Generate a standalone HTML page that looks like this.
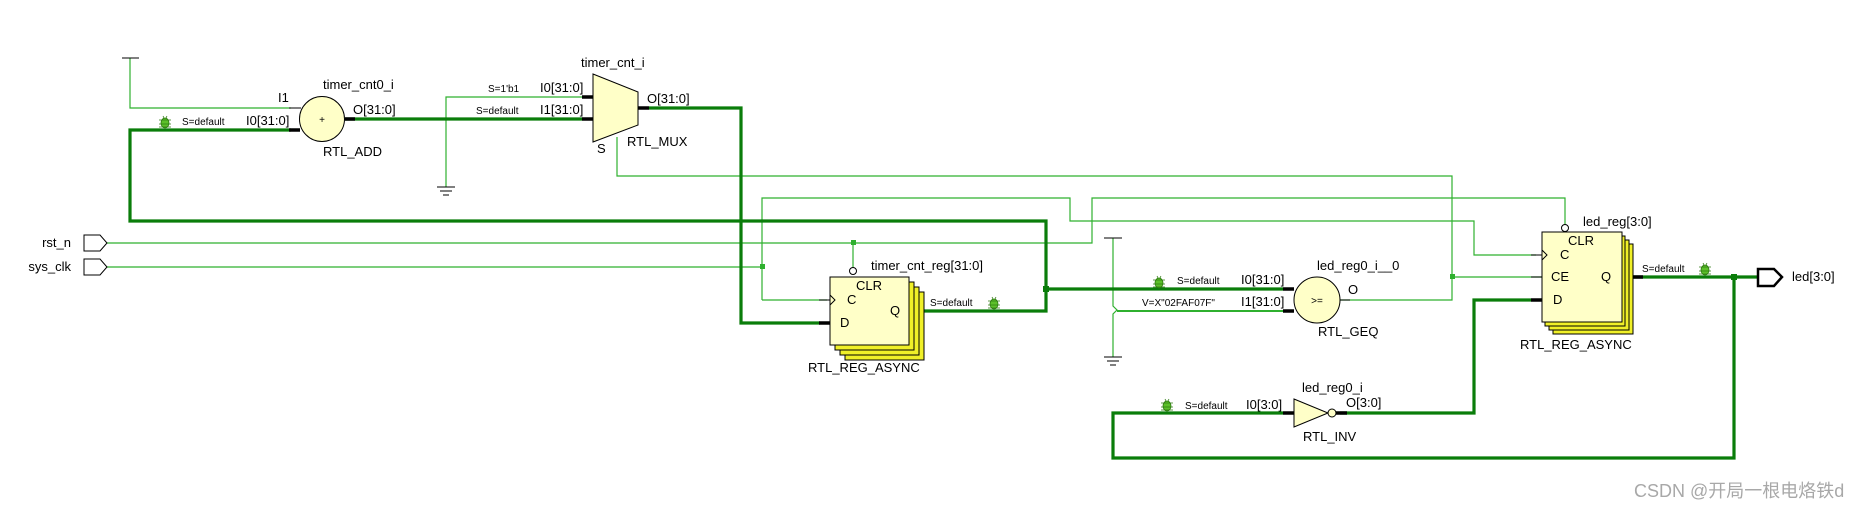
<!DOCTYPE html>
<html><head><meta charset="utf-8"><style>
html,body{margin:0;padding:0;background:#fff;}
svg{display:block;}
text{font-family:"Liberation Sans",Arial,sans-serif;fill:#000;}
.l{font-size:13px;}
.s{font-size:10px;}
.t{fill:none;stroke:#2fb02f;stroke-width:1.2;}
.b{fill:none;stroke:#0a7d0a;stroke-width:3.2;}
.p{stroke:#000;stroke-width:3.5;}
.box{fill:#ffffc8;stroke:#000;stroke-width:1;}
.stk{fill:#f0f028;stroke:#000;stroke-width:1;}
</style></head><body>
<svg width="1859" height="509" viewBox="0 0 1859 509" xmlns="http://www.w3.org/2000/svg">
<defs>
<g id="bug">
<ellipse cx="0" cy="1" rx="4" ry="5" fill="#5cc02a" stroke="#2d7a10" stroke-width="0.8"/>
<path d="M-6,-2 L6,-2 M-6,2 L6,2 M-6,5 L6,5 M-2,-6 L-1,-4 M2,-6 L1,-4" stroke="#2d7a10" stroke-width="0.8"/>
</g>
</defs>

<!-- thin wires -->
<polyline class="t" points="130,58 130,108 291,108"/>
<line x1="122" y1="58" x2="139" y2="58" stroke="#000" stroke-width="1"/>
<polyline class="t" points="582,97 446,97 446,187"/>
<path d="M437,187 H455 M440,191 H452 M443,195 H449" stroke="#000" stroke-width="1"/>
<polyline class="t" points="617,137 617,176 1452,176 1452,300 1339,300"/>
<polyline class="t" points="1452,277 1542,277"/>
<!-- sys_clk -->
<polyline class="t" points="107,267 762,267"/>
<polyline class="t" points="762,300 762,198 1070,198 1070,221 1474,221 1474,255 1536,255"/>
<polyline class="t" points="762,300 827,300"/>
<!-- rst_n -->
<polyline class="t" points="107,243 1092,243 1092,198 1565,198 1565,225"/>
<polyline class="t" points="853,243 853,268"/>
<rect x="760" y="264" width="5" height="5" fill="#2fb02f"/>
<rect x="851" y="240" width="5" height="5" fill="#2fb02f"/>
<rect x="1450" y="274" width="5" height="5" fill="#2fb02f"/>
<!-- constant/ground near GEQ -->
<path d="M1113,238 V306 L1117,310 L1113,314 V357" class="t"/>
<line x1="1104" y1="238" x2="1122" y2="238" stroke="#000" stroke-width="1"/>
<path d="M1104,357 H1122 M1107,361 H1119 M1110,365 H1116" stroke="#000" stroke-width="1"/>
<line x1="1117" y1="311" x2="1283" y2="311" stroke="#2fb02f" stroke-width="2"/>

<!-- buses -->
<polyline class="b" points="291,130 130,130 130,221 1046,221 1046,311 916,311"/>
<polyline class="b" points="345,119 582,119"/>
<polyline class="b" points="649,108 741,108 741,323 820,323"/>
<polyline class="b" points="1046,289 1283,289"/>
<rect x="1043" y="286" width="6" height="6" fill="#0a7d0a"/>
<polyline class="b" points="1633,277 1757,277"/>
<polyline class="b" points="1734,277 1734,458 1113,458 1113,413 1283,413"/>
<polyline class="b" points="1340,413 1474,413 1474,300 1531,300"/>
<rect x="1731" y="274" width="6" height="6" fill="#0a7d0a"/>

<!-- pin stubs -->
<line class="p" x1="582" y1="97" x2="593" y2="97"/>
<line class="p" x1="582" y1="119" x2="593" y2="119"/>
<line class="p" x1="638" y1="108" x2="649" y2="108"/>
<line class="p" x1="289" y1="130" x2="300" y2="130"/>
<line x1="289" y1="108" x2="301" y2="108" stroke="#000" stroke-width="1"/>
<line class="p" x1="345" y1="119" x2="355" y2="119"/>
<line class="p" x1="819" y1="323" x2="830" y2="323"/>
<line x1="819" y1="300" x2="830" y2="300" stroke="#000" stroke-width="1"/>
<line class="p" x1="909" y1="311" x2="920" y2="311"/>
<line class="p" x1="1283" y1="289" x2="1294" y2="289"/>
<line class="p" x1="1283" y1="311" x2="1294" y2="311"/>
<line x1="1339" y1="300" x2="1350" y2="300" stroke="#000" stroke-width="1"/>
<line class="p" x1="1531" y1="300" x2="1542" y2="300"/>
<line x1="1531" y1="277" x2="1542" y2="277" stroke="#000" stroke-width="1"/>
<line x1="1531" y1="255" x2="1542" y2="255" stroke="#000" stroke-width="1"/>
<line class="p" x1="1633" y1="277" x2="1643" y2="277"/>
<line class="p" x1="1283" y1="413" x2="1294" y2="413"/>
<line class="p" x1="1336" y1="413" x2="1347" y2="413"/>

<!-- adder -->
<circle cx="322" cy="119" r="22.5" class="box"/>
<text x="322" y="123" class="s" text-anchor="middle">+</text>
<!-- mux -->
<polygon points="593,74 638,92 638,125 593,142" class="box"/>
<!-- timer_cnt_reg -->
<rect x="845" y="292" width="79" height="68" class="stk"/>
<rect x="840" y="287" width="79" height="68" class="stk"/>
<rect x="835" y="282" width="79" height="68" class="stk"/>
<rect x="830" y="277" width="79" height="68" class="box"/>
<path d="M830,295 L835,300 L830,305" fill="none" stroke="#000"/>
<circle cx="853" cy="271" r="3.5" fill="#fff" stroke="#000"/>
<!-- GEQ -->
<circle cx="1317" cy="300" r="23" class="box"/>
<!-- led_reg -->
<rect x="1553" y="244" width="80" height="90" class="stk"/>
<rect x="1549" y="240" width="80" height="90" class="stk"/>
<rect x="1545" y="236" width="80" height="90" class="stk"/>
<rect x="1542" y="232" width="80" height="90" class="box"/>
<path d="M1542,250 L1547,255 L1542,260" fill="none" stroke="#000"/>
<circle cx="1565" cy="228" r="3.5" fill="#fff" stroke="#000"/>
<!-- INV -->
<polygon points="1294,399 1328,413 1294,427" class="box"/>
<circle cx="1332" cy="413" r="4" fill="#ffffc8" stroke="#000"/>
<!-- ports -->
<polygon points="84,235 100,235 107,243 100,251 84,251" fill="#fff" stroke="#000"/>
<polygon points="84,259 100,259 107,267 100,275 84,275" fill="#fff" stroke="#000"/>
<polygon points="1758,269 1774,269 1782,277 1774,286 1758,286" fill="#fff" stroke="#000" stroke-width="2.5"/>

<!-- bugs -->
<use href="#bug" x="165" y="122"/>
<use href="#bug" x="994" y="303"/>
<use href="#bug" x="1159" y="282"/>
<use href="#bug" x="1705" y="269"/>
<use href="#bug" x="1167" y="405"/>

<!-- labels -->
<text x="71" y="247" class="l" text-anchor="end">rst_n</text>
<text x="71" y="271" class="l" text-anchor="end">sys_clk</text>
<text x="323" y="89" class="l">timer_cnt0_i</text>
<text x="278" y="102" class="l">I1</text>
<text x="246" y="125" class="l">I0[31:0]</text>
<text x="182" y="125" class="s">S=default</text>
<text x="353" y="114" class="l">O[31:0]</text>
<text x="323" y="156" class="l">RTL_ADD</text>
<text x="581" y="67" class="l">timer_cnt_i</text>
<text x="488" y="92" class="s">S=1'b1</text>
<text x="476" y="114" class="s">S=default</text>
<text x="540" y="92" class="l">I0[31:0]</text>
<text x="540" y="114" class="l">I1[31:0]</text>
<text x="647" y="103" class="l">O[31:0]</text>
<text x="597" y="153" class="l">S</text>
<text x="627" y="146" class="l">RTL_MUX</text>
<text x="871" y="270" class="l">timer_cnt_reg[31:0]</text>
<text x="856" y="290" class="l">CLR</text>
<text x="847" y="304" class="l">C</text>
<text x="840" y="327" class="l">D</text>
<text x="890" y="315" class="l">Q</text>
<text x="930" y="306" class="s">S=default</text>
<text x="808" y="372" class="l">RTL_REG_ASYNC</text>
<text x="1317" y="270" class="l">led_reg0_i__0</text>
<text x="1241" y="284" class="l">I0[31:0]</text>
<text x="1241" y="306" class="l">I1[31:0]</text>
<text x="1177" y="284" class="s">S=default</text>
<text x="1142" y="306" class="s">V=X"02FAF07F"</text>
<text x="1348" y="294" class="l">O</text>
<text x="1317" y="304" class="s" text-anchor="middle">&gt;=</text>
<text x="1318" y="336" class="l">RTL_GEQ</text>
<text x="1583" y="226" class="l">led_reg[3:0]</text>
<text x="1568" y="245" class="l">CLR</text>
<text x="1560" y="259" class="l">C</text>
<text x="1551" y="281" class="l">CE</text>
<text x="1553" y="304" class="l">D</text>
<text x="1601" y="281" class="l">Q</text>
<text x="1520" y="349" class="l">RTL_REG_ASYNC</text>
<text x="1642" y="272" class="s">S=default</text>
<text x="1792" y="281" class="l">led[3:0]</text>
<text x="1302" y="392" class="l">led_reg0_i</text>
<text x="1246" y="409" class="l">I0[3:0]</text>
<text x="1346" y="407" class="l">O[3:0]</text>
<text x="1185" y="409" class="s">S=default</text>
<text x="1303" y="441" class="l">RTL_INV</text>
<text x="1634" y="497" style="font-size:18px;fill:#a8a8a8;font-family:'Liberation Sans','Noto Sans CJK SC',sans-serif">CSDN @开局一根电烙铁d</text>
</svg>
</body></html>
